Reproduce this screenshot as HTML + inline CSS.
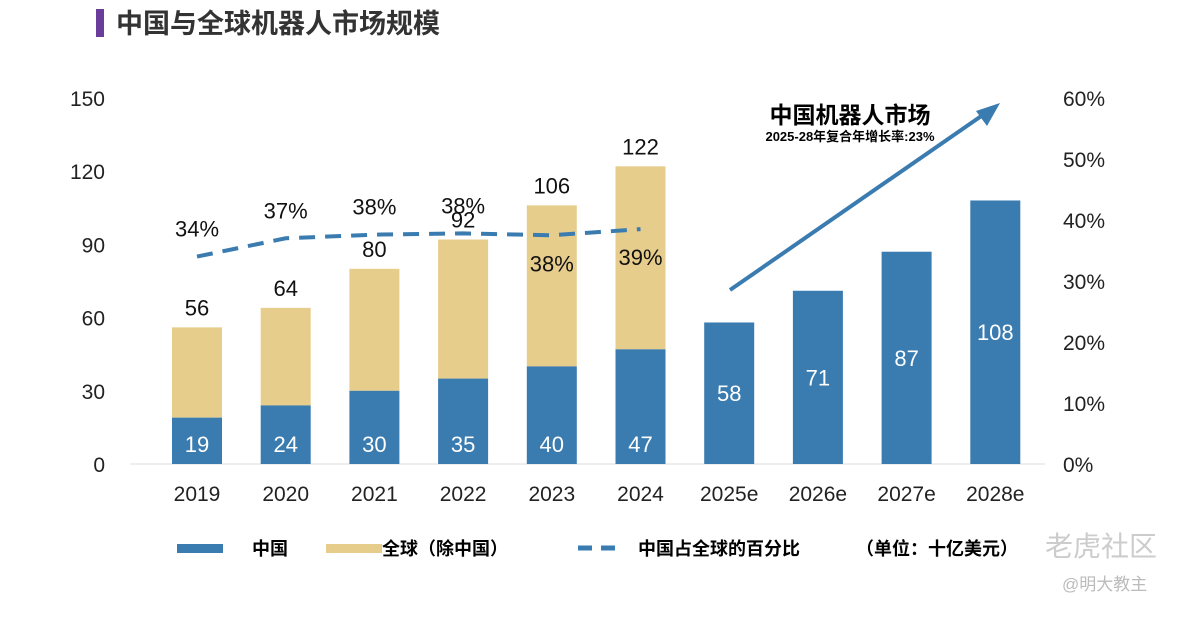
<!DOCTYPE html>
<html><head><meta charset="utf-8">
<style>
body{margin:0;background:#fff;width:1188px;height:612px;overflow:hidden;font-family:"Liberation Sans","Noto Sans CJK SC",sans-serif;}
svg text{font-family:"Liberation Sans","Noto Sans CJK SC",sans-serif;}
</style></head>
<body>
<svg id="chart" width="1188" height="612">
<rect x="96" y="9" width="8" height="28" fill="#6a3d9a"/>
<text x="116" y="33" font-size="27" font-weight="bold" fill="#333">中国与全球机器人市场规模</text>
<line x1="130" y1="464" x2="1045" y2="464" stroke="#ddd" stroke-width="1"/>
<g id="bars"></g><g id="labels"></g>
<text x="850" y="123" font-size="23" font-weight="bold" text-anchor="middle" fill="#000">中国机器人市场</text>
<text x="850" y="141" font-size="13" font-weight="bold" text-anchor="middle" fill="#000">2025-28年复合年增长率:23%</text>
<line x1="730" y1="290" x2="990" y2="110" stroke="#3a7bb0" stroke-width="4"/>
<polygon points="1000,103 976,111 987,126" fill="#3a7bb0"/>
<g>
<rect x="177" y="544" width="46" height="9" fill="#3a7bb0"/>
<text x="252" y="555" font-size="18" font-weight="bold">中国</text>
<rect x="326" y="544" width="56" height="9" fill="#e6cd8c"/>
<text x="382" y="555" font-size="18" font-weight="bold">全球（除中国）</text>
<line x1="578" y1="548" x2="622" y2="548" stroke="#3a7bb0" stroke-width="5" stroke-dasharray="14,9"/>
<text x="638" y="555" font-size="18" font-weight="bold">中国占全球的百分比</text>
<text x="856" y="555" font-size="18" font-weight="bold">（单位：十亿美元）</text>
</g>
<text x="1045" y="556" font-size="28" fill="#ccc">老虎社区</text>
<text x="1062" y="590" font-size="17" fill="#bbb">@明大教主</text>
</svg>
<script>
const categories=["2019","2020","2021","2022","2023","2024","2025e","2026e","2027e","2028e"];
const chinaValues=[19,24,30,35,40,47,58,71,87,108];
const totalValues=[56,64,80,92,106,122,null,null,null,null];
const shareValues=[34,37,37.6,37.8,37.5,38.5];
const shareLabels=["34%","37%","38%","38%","38%","39%"];
const leftTicks=[0,30,60,90,120,150];
const rightTicks=[0,10,20,30,40,50,60];
const NS="http://www.w3.org/2000/svg";
const bars=document.getElementById('bars'),labels=document.getElementById('labels');
const y0=464,yTop=98;
function yL(v){return y0-(v/150)*(y0-yTop);}
function yR(p){return y0-(p/60)*(y0-yTop);}
function xC(i){return 197+i*88.7;}
const bw=50;
function mk(tag,attrs,parent,text){const e=document.createElementNS(NS,tag);for(const k in attrs)e.setAttribute(k,attrs[k]);if(text!==undefined)e.textContent=text;parent.appendChild(e);return e;}
leftTicks.forEach(t=>{const e=mk('text',{x:105,y:yL(t)+8,'font-size':21,'text-anchor':'end',fill:'#222'},labels,String(t));

});
rightTicks.forEach(t=>{const e=mk('text',{x:1063,y:yR(t)+8,'font-size':21,fill:'#222'},labels,t+'%');

});
categories.forEach((c,i)=>{
const x=xC(i);
if(totalValues[i]!=null){
const g=mk('rect',{x:x-bw/2,y:yL(totalValues[i]),width:bw,height:yL(chinaValues[i])-yL(totalValues[i]),fill:'#e6cd8c'},bars);


const t=mk('text',{x:x,y:yL(totalValues[i])-12,'font-size':22,'text-anchor':'middle',fill:'#111'},labels,String(totalValues[i]));


}
const r=mk('rect',{x:x-bw/2,y:yL(chinaValues[i]),width:bw,height:y0-yL(chinaValues[i]),fill:'#3a7bb0'},bars);


const ly=(yL(chinaValues[i])+y0)/2+8;
const v=mk('text',{x:x,y:i<6?452:ly,'font-size':22,'text-anchor':'middle',fill:'#fff'},labels,String(chinaValues[i]));


const cl=mk('text',{x:x,y:501,'font-size':21,'text-anchor':'middle',fill:'#222'},labels,c);


});
let d='';shareValues.forEach((p,i)=>{d+=(i?'L':'M')+xC(i)+','+yR(p);});
const line=mk('path',{d:d,fill:'none',stroke:'#3a7bb0','stroke-width':4,'stroke-dasharray':'16,10'},bars);


shareValues.forEach((p,i)=>{
const below=i>=4;
const t=mk('text',{x:xC(i),y:below?yR(p)+36:yR(p)-20,'font-size':22,'text-anchor':'middle',fill:'#111'},labels,shareLabels[i]);


});
</script>
</body></html>
